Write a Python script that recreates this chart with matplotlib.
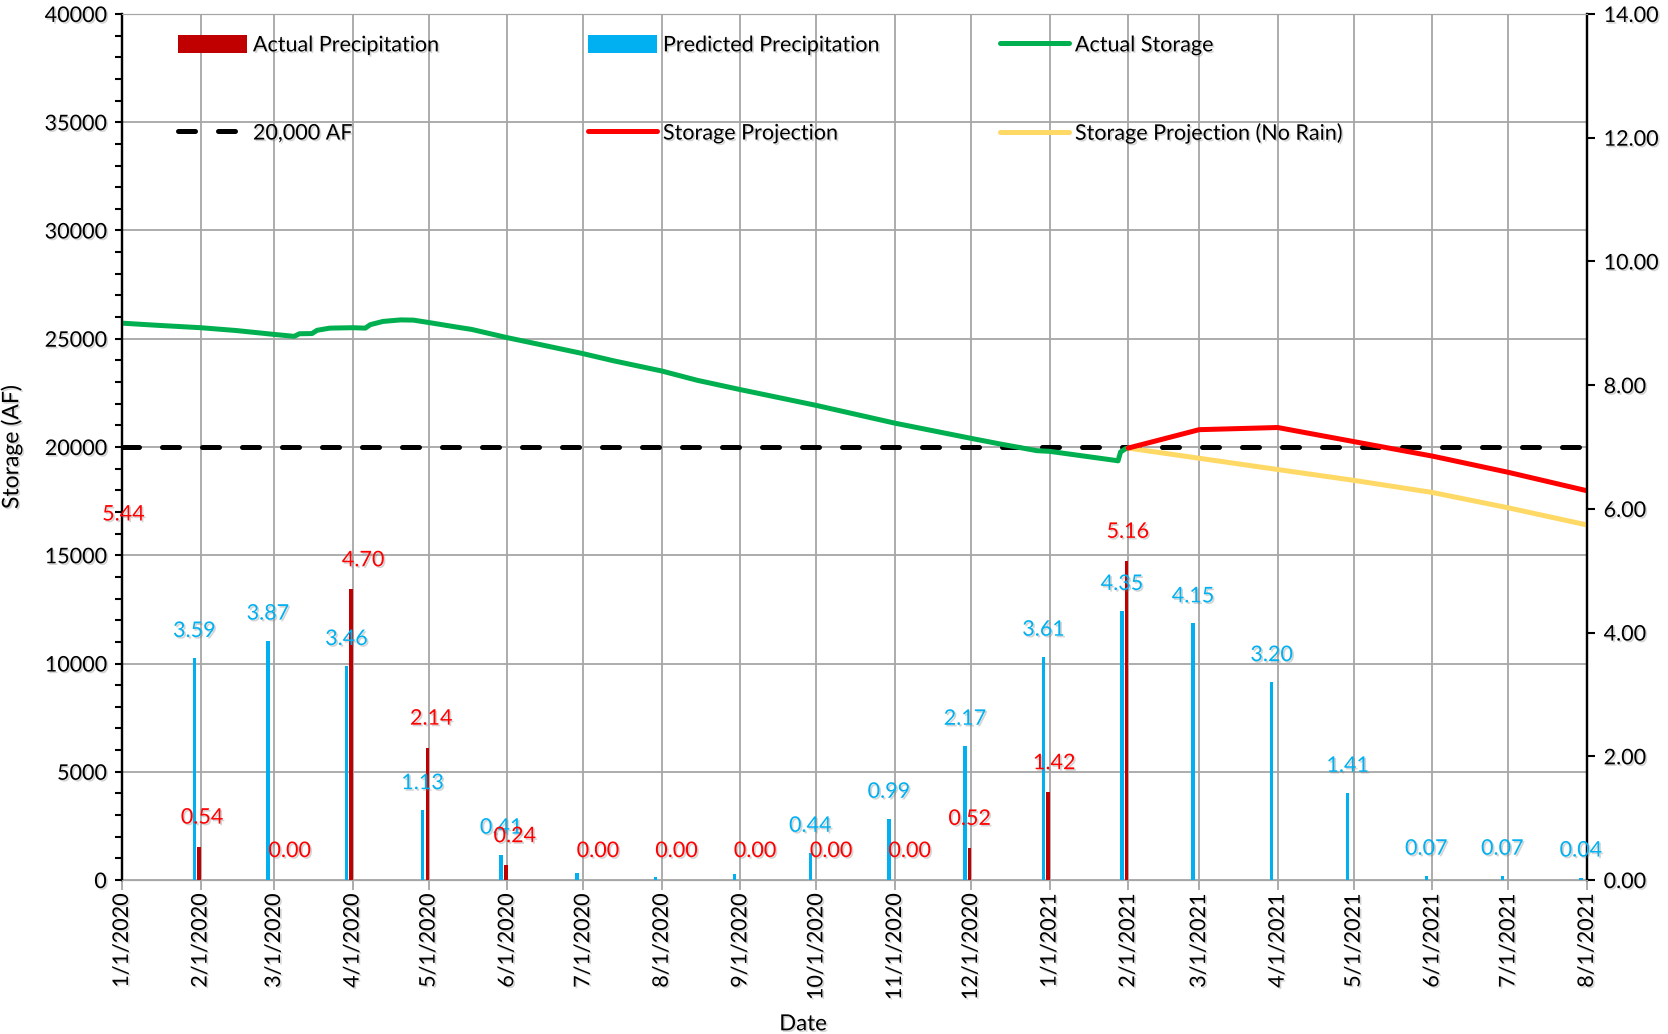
# STORAGE AND PRECIPITATION CHART

import matplotlib
matplotlib.use('Agg')
import matplotlib.pyplot as plt
import matplotlib.dates as mdates
import matplotlib.patheffects as pe
from matplotlib.ticker import MultipleLocator, FuncFormatter
from matplotlib.lines import Line2D
from matplotlib.patches import Patch
import pandas as pd

#================================================
# Data

storage_dates = ['2020-01-01', '2020-01-15', '2020-02-01', '2020-02-15', '2020-03-01',
                 '2020-03-09', '2020-03-11', '2020-03-16', '2020-03-18', '2020-03-23',
                 '2020-04-01', '2020-04-06', '2020-04-08', '2020-04-13', '2020-04-20',
                 '2020-04-25', '2020-05-01', '2020-05-12', '2020-05-18', '2020-06-01',
                 '2020-06-12', '2020-07-01', '2020-07-13', '2020-08-01', '2020-08-15',
                 '2020-09-01', '2020-10-01', '2020-11-01', '2020-12-01', '2020-12-12',
                 '2020-12-27', '2021-01-01', '2021-01-27', '2021-01-28', '2021-01-29',
                 '2021-01-31', '2021-02-01']
storage_af = [25720, 25620, 25510, 25380, 25200,
              25110, 25230, 25240, 25390, 25490,
              25510, 25490, 25650, 25800, 25870,
              25860, 25750, 25540, 25430, 25050,
              24780, 24310, 23980, 23510, 23080,
              22650, 21920, 21100, 20400, 20150,
              19830, 19800, 19380, 19360, 19770,
              19920, 19950]

projection_dates = ['2021-02-01', '2021-03-01', '2021-04-01', '2021-05-01',
                    '2021-06-01', '2021-07-01', '2021-08-01']
projection_af = [19950, 20800, 20900, 20250, 19580, 18830, 17980]
projection_no_rain_af = [19950, 19480, 18960, 18460, 17900, 17190, 16400]

threshold_af = 20000

actual_precip_dates = ['2020-01-01', '2020-02-01', '2020-03-01', '2020-04-01', '2020-05-01',
                       '2020-06-01', '2020-07-01', '2020-08-01', '2020-09-01', '2020-10-01',
                       '2020-11-01', '2020-12-01', '2021-01-01', '2021-02-01']
actual_precip_in = [5.44, 0.54, 0.00, 4.70, 2.14, 0.24, 0.00, 0.00, 0.00, 0.00,
                    0.00, 0.52, 1.42, 5.16]

predicted_precip_dates = ['2020-02-01', '2020-03-01', '2020-04-01', '2020-05-01', '2020-06-01',
                          '2020-07-01', '2020-08-01', '2020-09-01', '2020-10-01', '2020-11-01',
                          '2020-12-01', '2021-01-01', '2021-02-01', '2021-03-01', '2021-04-01',
                          '2021-05-01', '2021-06-01', '2021-07-01', '2021-08-01']
predicted_precip_in = [3.59, 3.87, 3.46, 1.13, 0.41, 0.12, 0.05, 0.10, 0.44, 0.99,
                       2.17, 3.61, 4.35, 4.15, 3.20, 1.41, 0.07, 0.07, 0.04]
# predicted bars whose value label is not shown in the original
predicted_unlabelled = ['2020-07-01', '2020-08-01', '2020-09-01']

# horizontal nudges (pixels) of the red value labels, as placed in the original
actual_label_dx = [3, 3, 17, 12, 4, 9, 16, 16, 16, 16, 16, 0, 6, 1]

#================================================
# Style

plt.rcParams['font.family'] = ['Lato', 'DejaVu Sans']
FS = 15.5
GRID = '#A6A6A6'
DASH = (3.4, 4.6)
shadow = [pe.withSimplePatchShadow(offset=(1.2, -1.2), shadow_rgbFace='0.45', alpha=0.3)]

#================================================
# Figure

fig = plt.figure(figsize=(16.68, 10.34), dpi=100)
ax = fig.add_axes([0.0731, 0.1489, 0.8783, 0.8376])
ax2 = ax.twinx()

# storage lines (left axis)
ax.plot(pd.to_datetime(storage_dates), storage_af, color='#00B050', lw=3.6,
        solid_capstyle='round', zorder=4)
ax.plot(pd.to_datetime(projection_dates), projection_no_rain_af, color='#FFD966', lw=3.6,
        solid_capstyle='round', zorder=4)
ax.plot(pd.to_datetime(projection_dates), projection_af, color='#FF0000', lw=3.6,
        solid_capstyle='round', zorder=4)
ax.axhline(threshold_af, color='black', lw=3.6, dashes=DASH,
           dash_capstyle='round', zorder=3)

# precipitation bars (right axis)
bar_w = 1.35
red_x = pd.to_datetime(actual_precip_dates) - pd.Timedelta(days=0.55)
blue_x = pd.to_datetime(predicted_precip_dates) - pd.Timedelta(days=2.4)
ax2.bar(blue_x, predicted_precip_in, width=bar_w, color='#00B0F0', zorder=2)
ax2.bar(red_x, actual_precip_in, width=bar_w, color='#C00000', zorder=2)

for d, x, v in zip(predicted_precip_dates, blue_x, predicted_precip_in):
    if d in predicted_unlabelled:
        continue
    ax2.annotate(f'{v:.2f}', xy=(x, v), xytext=(0, 27), textcoords='offset pixels',
                 ha='center', va='center', color='#00B0F0', fontsize=FS,
                 annotation_clip=False, path_effects=shadow, zorder=5)
for x, v, dx in zip(red_x, actual_precip_in, actual_label_dx):
    ax2.annotate(f'{v:.2f}', xy=(x, v), xytext=(dx, 29), textcoords='offset pixels',
                 ha='center', va='center', color='#FF0000', fontsize=FS,
                 annotation_clip=False, path_effects=shadow, zorder=5)

#================================================
# Axes, ticks and grid

ax.set_xlim(pd.Timestamp('2020-01-01'), pd.Timestamp('2021-08-01'))
ax.set_ylim(0, 40000)
ax2.set_ylim(0, 14)

ax.xaxis.set_major_locator(mdates.MonthLocator())
ax.xaxis.set_major_formatter(FuncFormatter(
    lambda v, p: (lambda d: f'{d.month}/{d.day}/{d.year}')(mdates.num2date(v))))
ax.yaxis.set_major_locator(MultipleLocator(5000))
ax.yaxis.set_minor_locator(MultipleLocator(1000))
ax2.yaxis.set_major_locator(MultipleLocator(2))
ax2.yaxis.set_major_formatter(FuncFormatter(lambda v, p: f'{v:.2f}'))

ax.grid(True, which='major', color=GRID, lw=1.3, zorder=0)
ax.set_axisbelow(True)

ax.tick_params(axis='x', direction='out', length=7, width=1.3, color=GRID,
               labelsize=FS, labelrotation=90, pad=3)
ax.tick_params(axis='y', which='both', direction='out', length=5, width=1.5,
               color='black', labelsize=FS, pad=6)
ax2.tick_params(axis='y', direction='out', length=6, width=1.5, color='black',
                labelsize=FS, pad=6)

for a in (ax, ax2):
    a.spines['top'].set_color(GRID)
    a.spines['bottom'].set_color(GRID)
    a.spines['left'].set_linewidth(1.6)
    a.spines['right'].set_linewidth(1.6)

ax.set_xlabel('Date', fontsize=FS + 0.5)
ax.xaxis.set_label_coords(0.465, -0.155)
ax.set_ylabel('Storage (AF)', fontsize=FS + 1)
ax.yaxis.set_label_coords(-0.068, 0.5)

#================================================
# Legend: three columns, two rows each

columns = [
    ([Patch(facecolor='#C00000'),
      Line2D([], [], color='black', lw=3.6, dashes=DASH, dash_capstyle='round')],
     ['Actual Precipitation', '20,000 AF'], 178),
    ([Patch(facecolor='#00B0F0'),
      Line2D([], [], color='#FF0000', lw=3.6, solid_capstyle='round')],
     ['Predicted Precipitation', 'Storage Projection'], 588),
    ([Line2D([], [], color='#00B050', lw=3.6, solid_capstyle='round'),
      Line2D([], [], color='#FFD966', lw=3.6, solid_capstyle='round')],
     ['Actual Storage', 'Storage Projection (No Rain)'], 1000),
]
for handles, labels, xpix in columns:
    leg = fig.legend(handles, labels, loc='upper left', frameon=False,
                     bbox_to_anchor=(xpix / 1668, 1 - 35 / 1034),
                     fontsize=FS, handlelength=3.2, handleheight=0.9,
                     handletextpad=0.28, labelspacing=3.15, borderpad=0,
                     borderaxespad=0)
    for t in leg.get_texts():
        t.set_path_effects(shadow)

for t in ax.get_xticklabels() + ax.get_yticklabels() + ax2.get_yticklabels():
    t.set_path_effects(shadow)
ax.xaxis.label.set_path_effects(shadow)
ax.yaxis.label.set_path_effects(shadow)

fig.savefig('out.png', dpi=100)
